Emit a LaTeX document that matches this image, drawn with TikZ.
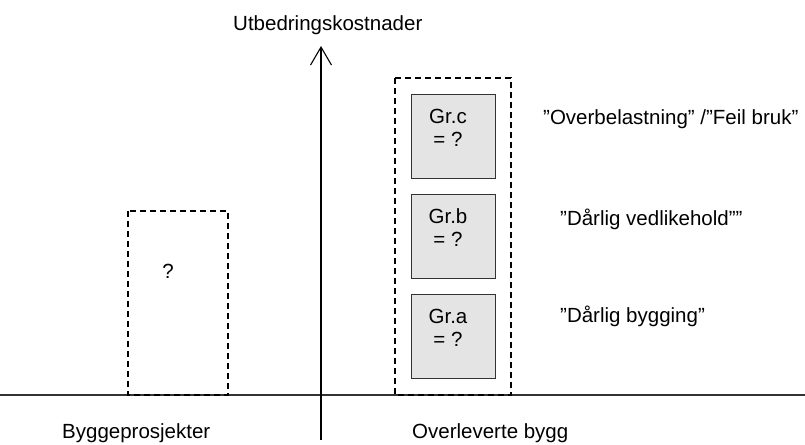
\documentclass[tikz,border=0pt]{standalone}
\usepackage{fontspec}
\setmainfont{Liberation Sans}
\usetikzlibrary{arrows.meta}
\definecolor{boxfill}{HTML}{E4E4E4}
\definecolor{boxline}{HTML}{333333}
\begin{document}
\begin{tikzpicture}[x=1pt,y=-1pt,
  txt/.style={inner sep=0pt,font=\fontsize{20.5}{23}\selectfont},
  dashbox/.style={draw=black,line width=1.1pt,dash pattern=on 6pt off 4pt},
  grbox/.style={draw=boxline,line width=1pt,fill=boxfill},
  axisline/.style={draw=black,line width=1.1pt}]
\useasboundingbox (0,0) rectangle (805,444);

% axes
\coordinate (xl) at (0,395);
\coordinate (xr) at (805,395);
\coordinate (yb) at (321,440);
\coordinate (yt) at (321,46);
\draw[axisline,draw=black!80] (xl) -- (xr);
\draw[axisline,-{Straight Barb[length=18pt,width=21pt,line width=1.1pt]}] (yb) -- (yt);

% axis labels
\node[txt,anchor=base west] (ylab) at (233,31) {Utbedringskostnader};
\node[txt,anchor=base west] (left) at (62,438) {Byggeprosjekter};
\node[txt,anchor=base west] (right) at (412,438) {Overleverte bygg};

% building projects
\draw[dashbox] (128,211) rectangle (228,395);
\node[txt,anchor=base] (q) at (168,278) {?};

% delivered buildings
\draw[dashbox] (395,78) rectangle (511,395);
\draw[grbox] (411,94) rectangle (495,178);
\draw[grbox] (411,194) rectangle (495,278);
\draw[grbox] (411,294) rectangle (495,378);
% anchor=base of a two-line node sits on its last line
\node[txt,anchor=base,align=center] (grc) at (448,146) {Gr.c\\= ?};
\node[txt,anchor=base,align=center] (grb) at (448,246) {Gr.b\\= ?};
\node[txt,anchor=base,align=center] (gra) at (448,346) {Gr.a\\= ?};

% causes
\node[txt,anchor=base west] (lc) at (543,124) {”Overbelastning” /”Feil bruk”};
\node[txt,anchor=base west] (lb) at (560,225) {”Dårlig vedlikehold””};
\node[txt,anchor=base west] (la) at (560,322) {”Dårlig bygging”};
\end{tikzpicture}
\end{document}
